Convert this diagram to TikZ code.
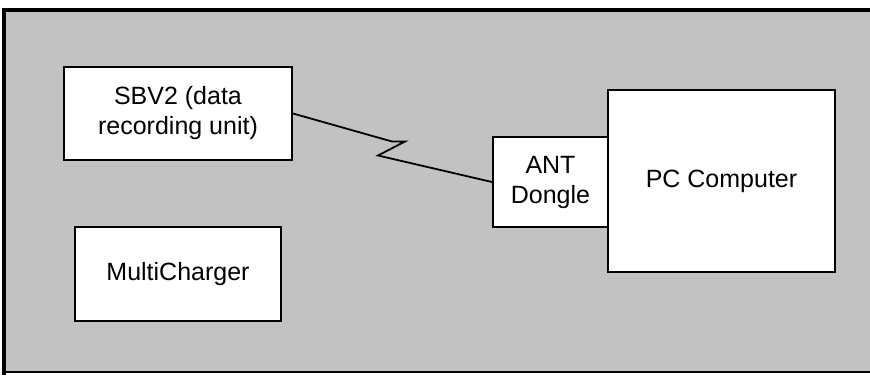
\documentclass[tikz,border=0pt]{standalone}
\usepackage{fontspec}
\setmainfont{Liberation Sans}
\definecolor{panelgray}{RGB}{194,194,194}
\tikzset{
  unitbox/.style={draw=black, line width=2pt, fill=white, inner sep=0pt,
                  align=center, font=\fontsize{25}{30}\selectfont},
  wire/.style={draw=black, line width=1.8pt, line join=miter},
}
\begin{document}
\begin{tikzpicture}[x=1pt, y=-1pt]
  % page extent and white surround
  \fill[white] (0,0) rectangle (870,375);
  \useasboundingbox (0,0) rectangle (870,375);

  % grey panel behind the blocks, framed on the left, top and bottom
  \fill[panelgray] (3,10) rectangle (870,372);
  \draw[line width=4pt] (3.5,375) -- (3.5,10.3) -- (870,10.3);
  \draw[line width=1.6pt] (3.5,372) -- (870,372);

  % hardware blocks
  \node[unitbox, minimum width=228pt, minimum height=93pt] (sbv) at (178,113.5)
       {SBV2 (data\\recording unit)};
  \node[unitbox, minimum width=206pt, minimum height=94pt] (charger) at (178,274)
       {MultiCharger};
  \node[unitbox, minimum width=227pt, minimum height=182pt] (pc) at (721.5,181)
       {PC Computer};
  \node[unitbox, minimum width=115pt, minimum height=90pt] (ant) at (550.5,182)
       {ANT\\Dongle};

  % wireless link (lightning connector)
  \draw[wire] (sbv.east) -- ++(99,28) -- ++(13,0) -- ++(-27,14) -- (ant.west);
\end{tikzpicture}
\end{document}
